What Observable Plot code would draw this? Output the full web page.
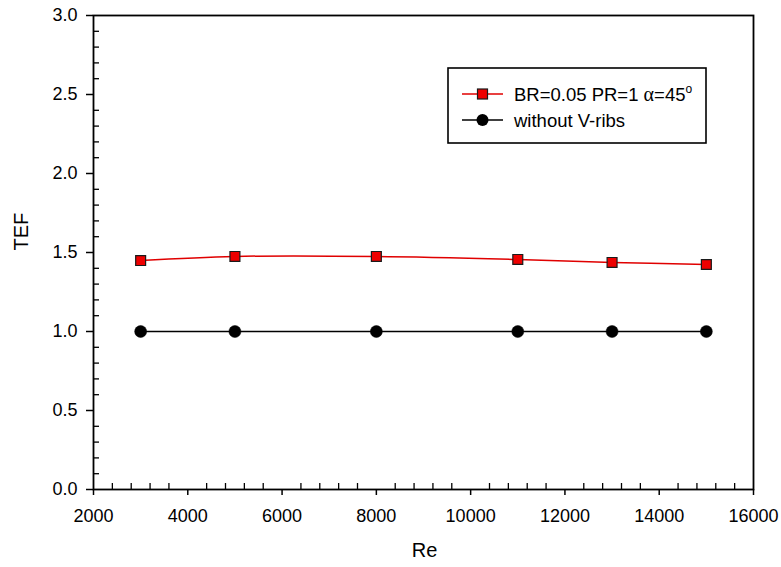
<!DOCTYPE html>
<html>
<head>
<meta charset="utf-8">
<script src="https://cdn.jsdelivr.net/npm/d3@7"></script>
<script src="https://cdn.jsdelivr.net/npm/@observablehq/plot@0.6"></script>
<style>
  html, body { margin: 0; padding: 0; background: #fff; }
  #wrap { position: relative; width: 781px; height: 567px; font-family: "Liberation Sans", Arial, sans-serif; }
  #legend { position: absolute; left: 0; top: 0; }
  #wrap svg.plot text { font-size: 18px; }
</style>
</head>
<body>
<div id="wrap"></div>
<script>
// ---- data ----
const reValues = [3000, 5000, 8000, 11000, 13000, 15000];
const tefRibs = [1.449, 1.475, 1.475, 1.456, 1.437, 1.424];
const tefSmooth = [1.0, 1.0, 1.0, 1.0, 1.0, 1.0];
const seriesNames = ["BR=0.05 PR=1 \u03b1=45", "without V-ribs"];
const xTicks = [2000, 4000, 6000, 8000, 10000, 12000, 14000, 16000];
const yTicks = [0, 0.5, 1.0, 1.5, 2.0, 2.5, 3.0];
const xMinor = d3.range(2000, 16001, 400).filter(v => v % 2000 !== 0);
const yMinor = d3.range(0, 31).map(i => i / 10).filter((v, i) => i % 5 !== 0);

const W = 781, H = 567;
const mL = 93, mR = 28, mT = 15, mB = 78;
const FONT = "Liberation Sans, Arial, sans-serif";

const ribs = reValues.map((x, i) => ({x, y: tefRibs[i]}));
const smooth = reValues.map((x, i) => ({x, y: tefSmooth[i]}));

const chart = Plot.plot({
  width: W, height: H,
  marginLeft: mL, marginRight: mR, marginTop: mT, marginBottom: mB,
  style: {fontFamily: FONT, fontSize: "18px", background: "#fff", color: "#000"},
  x: {domain: [2000, 16000]},
  y: {domain: [0, 3]},
  marks: [
    // minor ticks (inward)
    Plot.ruleX(xMinor, {x: d => d, stroke: "#000", strokeWidth: 1.3, insetTop: H - mT - mB - 6}),
    Plot.ruleY(yMinor, {y: d => d, stroke: "#000", strokeWidth: 1.3, insetRight: W - mL - mR - 6}),
    // major axes (outward)
    Plot.axisX({ticks: xTicks, tickSize: 6, tickPadding: 14, tickFormat: d => String(d), fontSize: 18, strokeWidth: 1.5, label: null}),
    Plot.axisY({ticks: yTicks, tickSize: 7, tickPadding: 9, tickFormat: d3.format(".1f"), fontSize: 18, strokeWidth: 1.5, label: null}),
    Plot.text(["Re"], {frameAnchor: "bottom", dx: 424 - (mL + (W - mL - mR) / 2), dy: 67, fontSize: 20, fill: "#000"}),
    Plot.text(["TEF"], {frameAnchor: "left", dx: 21 - mL, dy: 250 - (mT + (H - mT - mB) / 2), rotate: -90, fontSize: 20, fill: "#000"}),
    Plot.frame({stroke: "#000", strokeWidth: 1.8}),
    // series
    Plot.line(smooth, {x: "x", y: "y", stroke: "#000", strokeWidth: 1.5}),
    Plot.dot(smooth, {x: "x", y: "y", r: 6, fill: "#000", stroke: "#000", strokeWidth: 0.5}),
    Plot.line(ribs, {x: "x", y: "y", stroke: "#e00000", strokeWidth: 1.5, curve: "catmull-rom"}),
    Plot.dot(ribs, {x: "x", y: "y", symbol: "square", r: 5.6, fill: "#ee0000", stroke: "#1a1a1a", strokeWidth: 1.2})
  ]
});

const wrap = document.getElementById("wrap");
wrap.appendChild(chart);
// Re and TEF titles a bit larger than tick labels
chart.querySelectorAll("text").forEach(t => {
  if (t.textContent === "Re" || t.textContent === "TEF") t.style.fontSize = "20px";
});

// ---- legend (inside the plot box, top-right) ----
const ns = "http://www.w3.org/2000/svg";
const lg = document.createElementNS(ns, "svg");
lg.setAttribute("id", "legend");
lg.setAttribute("width", W);
lg.setAttribute("height", H);
lg.style.pointerEvents = "none";
const box = {x: 448, y: 68, w: 258, h: 75};
function el(tag, attrs, parent) {
  const e = document.createElementNS(ns, tag);
  for (const k in attrs) e.setAttribute(k, attrs[k]);
  (parent || lg).appendChild(e);
  return e;
}
el("rect", {x: box.x, y: box.y, width: box.w, height: box.h, fill: "#fff", stroke: "#000", "stroke-width": 1.6});
const rows = [
  {cy: 94, color: "#e00000", marker: "square", label: seriesNames[0], sup: "o"},
  {cy: 120, color: "#000", marker: "circle", label: seriesNames[1]}
];
rows.forEach(r => {
  el("line", {x1: 462, x2: 503, y1: r.cy, y2: r.cy, stroke: r.color, "stroke-width": 1.5});
  if (r.marker === "square") {
    el("rect", {x: 482.5 - 5, y: r.cy - 5, width: 10, height: 10, fill: "#ee0000", stroke: "#1a1a1a", "stroke-width": 1.2});
  } else {
    el("circle", {cx: 482.5, cy: r.cy, r: 6, fill: "#000"});
  }
  const t = el("text", {x: 514, y: r.cy + 6.5, "font-size": 18.5, "font-family": FONT, fill: "#000"});
  if (r.sup) {
    const parts = r.label.split("\u03b1");
    const a = el("tspan", {}, t); a.textContent = parts[0];
    const b = el("tspan", {"font-family": "Liberation Serif, Times New Roman, serif", "font-size": 20}, t); b.textContent = "\u03b1";
    const c = el("tspan", {}, t); c.textContent = parts[1];
    const s = el("tspan", {"font-size": 12, dy: -8}, t); s.textContent = r.sup;
  } else {
    t.textContent = r.label;
  }
});
wrap.appendChild(lg);
</script>
</body>
</html>
